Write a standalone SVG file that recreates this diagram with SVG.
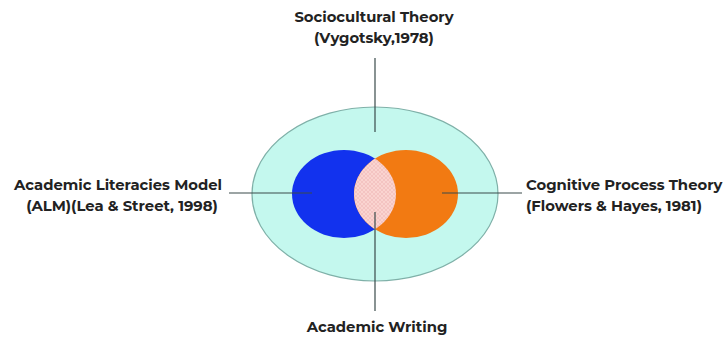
<svg xmlns="http://www.w3.org/2000/svg" width="726" height="342" viewBox="0 0 726 342">
<style>
.lbl{font-family:"Montserrat","Open Sans","Liberation Sans",sans-serif;font-weight:bold;font-size:14.8px;fill:#222222}
.ln{stroke:#3a4a4a;stroke-width:1.2;fill:none}
</style>
<defs>
<pattern id="hatch" width="4" height="4" patternUnits="userSpaceOnUse">
<rect width="4" height="4" fill="#fad4d0"/>
<path d="M0,0L4,4M4,0L0,4" stroke="#f0b8b8" stroke-width="0.6"/>
</pattern>
<clipPath id="clipBlue"><ellipse cx="344" cy="194" rx="52" ry="44"/></clipPath>
</defs>
<rect width="726" height="342" fill="#ffffff"/>
<g id="outer">
<ellipse cx="375" cy="194" rx="123" ry="87" fill="#c4f8ee" stroke="#7fb0a8" stroke-width="1.2"/>
</g>
<g id="blue">
<ellipse cx="344" cy="194" rx="52" ry="44" fill="#1232ee"/>
</g>
<g id="orange">
<ellipse cx="406" cy="194" rx="52" ry="44" fill="#f27a12"/>
</g>
<g id="overlap">
<ellipse cx="406" cy="194" rx="52" ry="44" fill="url(#hatch)" clip-path="url(#clipBlue)"/>
</g>
<g id="connectors">
<line class="ln" x1="375" y1="58" x2="375" y2="132"/>
<line class="ln" x1="229" y1="193" x2="312" y2="193"/>
<line class="ln" x1="442" y1="193" x2="522" y2="193"/>
<line class="ln" x1="375" y1="212" x2="375" y2="311"/>
</g>
<g id="top-label">
<text class="lbl" x="374" y="22" text-anchor="middle">Sociocultural Theory</text>
<text class="lbl" x="374" y="43" text-anchor="middle">(Vygotsky,1978)</text>
</g>
<g id="left-label">
<text class="lbl" x="118" y="190" text-anchor="middle">Academic Literacies Model</text>
<text class="lbl" x="122" y="211" text-anchor="middle">(ALM)(Lea &amp; Street, 1998)</text>
</g>
<g id="right-label">
<text class="lbl" x="526" y="190">Cognitive Process Theory</text>
<text class="lbl" x="526" y="211">(Flowers &amp; Hayes, 1981)</text>
</g>
<g id="bottom-label">
<text class="lbl" x="377" y="332" text-anchor="middle">Academic Writing</text>
</g>
</svg>
